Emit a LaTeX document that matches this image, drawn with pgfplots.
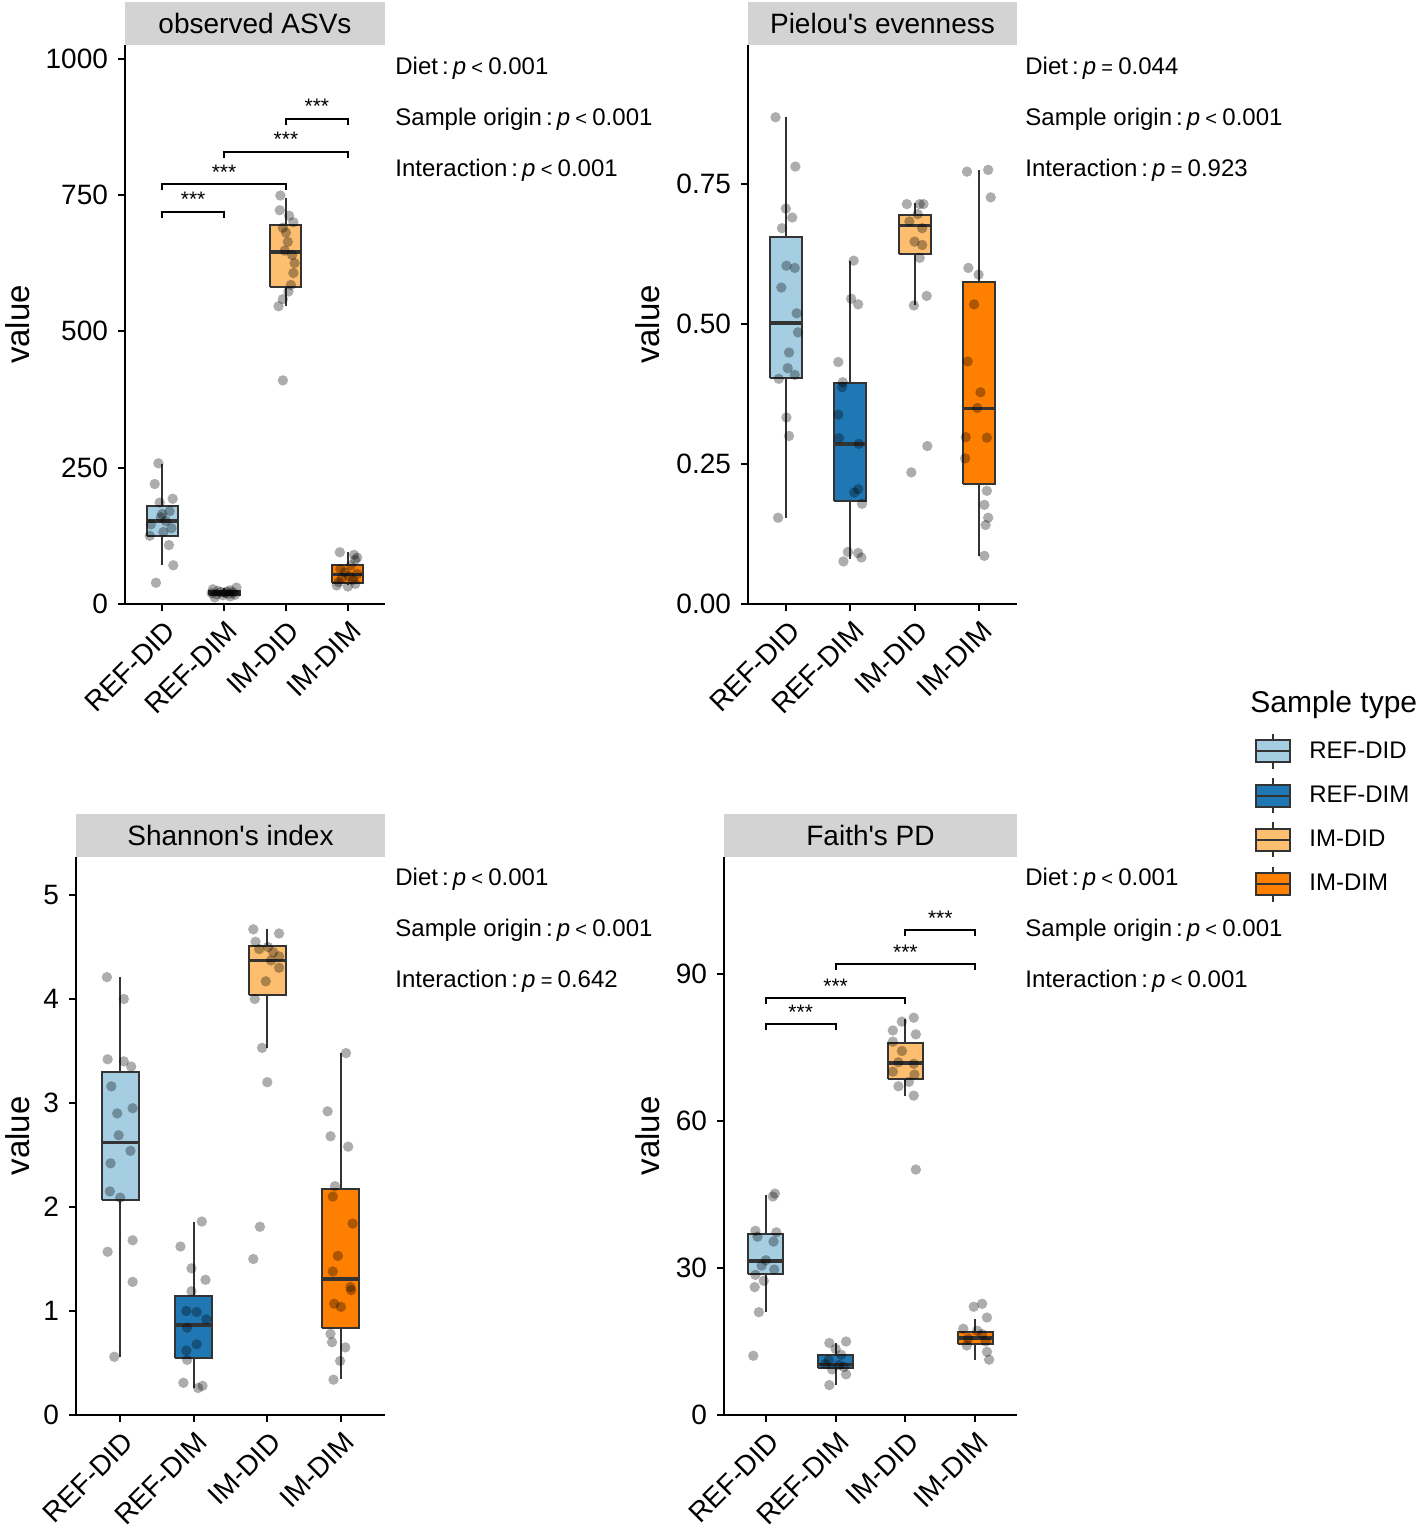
\documentclass[border=0pt]{standalone}
\usepackage{fontspec}
\setmainfont{Liberation Sans}
\usepackage{pgfplots}
\pgfplotsset{compat=1.18}
\usepackage{pgfplotstable}

\definecolor{refdid}{HTML}{A6CEE3}
\definecolor{refdim}{HTML}{1F78B4}
\definecolor{imdid}{HTML}{FDBF6F}
\definecolor{imdim}{HTML}{FF7F00}
\definecolor{boxline}{HTML}{333333}
\definecolor{stripgray}{HTML}{D3D3D3}

\newcommand{\fs}[1]{\fontsize{#1}{#1}\selectfont}

% jittered points: x = category + jitter, y = value
\pgfplotstableread{
x y
0.94 258
0.88 220
1.17 193
0.96 186
1.12 170
0.98 159
1.06 152
0.82 146
1.15 139
0.80 125
1.11 108
1.18 71
0.90 39
1.00 165
1.02 132
2.20 30
1.82 27
2.10 25
1.90 24
2.05 23
1.95 22
2.15 21
1.80 20
2.02 20
2.08 19
1.88 18
2.18 17
1.98 16
2.10 14
1.85 12
2.91 749
2.90 722
3.05 712
3.12 700
2.95 690
3.00 681
3.03 664
2.98 648
3.10 640
3.14 625
3.12 607
3.08 585
3.04 573
2.95 559
2.88 546
2.95 410
3.87 95
4.10 90
4.15 85
4.12 81
4.05 71
3.88 64
3.95 58
4.15 55
4.02 51
3.90 47
4.08 44
3.85 40
4.12 37
3.82 34
4.00 32
}\ptsAsv

\pgfplotstableread{
x y
0.83 0.869
1.14 0.781
0.99 0.706
1.09 0.690
0.93 0.671
1.00 0.604
1.13 0.600
0.92 0.565
1.16 0.519
1.18 0.485
1.04 0.449
1.02 0.421
1.13 0.409
0.88 0.402
1.00 0.333
1.04 0.300
0.87 0.154
2.05 0.613
2.01 0.545
2.12 0.535
1.81 0.432
1.88 0.396
1.87 0.387
1.81 0.338
1.82 0.296
2.13 0.286
2.12 0.205
2.06 0.199
2.18 0.179
1.96 0.093
1.89 0.076
2.12 0.091
2.17 0.083
2.88 0.714
3.08 0.714
3.14 0.714
3.05 0.696
2.92 0.683
3.12 0.671
3.00 0.647
3.12 0.641
3.08 0.618
3.19 0.550
2.99 0.533
3.20 0.282
2.95 0.235
3.82 0.772
4.15 0.775
4.19 0.726
3.84 0.600
4.00 0.588
3.93 0.535
3.83 0.433
4.03 0.378
3.98 0.350
3.80 0.298
4.13 0.297
3.79 0.260
4.13 0.202
4.09 0.177
4.15 0.154
4.11 0.141
4.09 0.086
}\ptsPie

\pgfplotstableread{
x y
0.82 4.21
1.05 4.00
0.83 3.42
1.05 3.40
1.15 3.35
0.88 3.16
0.96 2.90
1.17 2.95
0.98 2.69
1.14 2.54
0.87 2.42
0.86 2.15
1.00 2.09
1.17 1.68
0.83 1.57
1.17 1.28
0.92 0.56
2.11 1.86
1.82 1.62
1.97 1.41
2.16 1.30
1.97 1.19
1.90 1.00
2.04 0.99
2.17 0.92
1.91 0.84
2.04 0.68
1.90 0.62
1.91 0.53
1.86 0.31
2.12 0.28
2.06 0.26
2.81 4.67
3.16 4.63
2.84 4.55
3.01 4.50
2.89 4.48
3.08 4.45
3.16 4.41
3.05 4.37
3.16 4.30
2.98 4.17
2.83 4.00
2.93 3.53
3.00 3.20
2.90 1.81
2.81 1.50
4.07 3.48
3.82 2.92
3.86 2.68
4.10 2.58
3.92 2.20
3.89 2.10
4.16 1.84
3.96 1.53
3.89 1.38
4.13 1.23
4.14 1.20
3.91 1.07
4.00 1.04
3.86 0.78
3.88 0.70
4.06 0.65
3.99 0.52
3.90 0.34
}\ptsSha

\pgfplotstableread{
x y
1.13 45.2
1.10 44.6
0.85 37.6
1.15 37.3
0.88 36.4
1.11 35.4
1.00 31.6
0.94 30.5
1.12 29.7
0.85 28.6
0.97 27.4
0.84 26.1
0.90 21.0
0.82 12.1
1.91 14.7
2.15 15.0
2.00 13.5
2.08 12.3
1.90 11.2
1.85 10.4
2.05 10.2
2.12 9.8
1.95 9.3
2.15 8.3
1.91 6.1
3.12 81.1
2.95 80.3
2.82 78.5
3.15 77.7
2.82 76.2
2.95 74.3
2.90 72.0
3.12 71.7
2.82 70.1
3.13 69.5
3.05 68.0
2.90 67.1
3.12 65.2
3.15 50.1
4.10 22.7
3.98 22.1
4.17 19.9
3.83 17.6
4.03 17.2
4.10 16.5
3.90 15.6
4.15 15.0
3.88 14.2
4.17 12.9
4.20 11.3
}\ptsFai

\pgfplotsset{
  panel/.style={
    scale only axis, anchor=south west,
    axis lines=left, axis line style={-, line width=1pt},
    xmin=0.4, xmax=4.6, xtick={1,2,3,4},
    xticklabels={REF-DID,REF-DIM,IM-DID,IM-DIM},
    tick align=outside, major tick length=3.5pt,
    tick style={black, line width=1pt},
    ticklabel style={font=\fs{14}},
    yticklabel style={xshift=-1.5pt},
    xticklabel style={rotate=45, anchor=north east, xshift=1pt},
    ylabel={value}, ylabel style={font=\fs{16.5}, anchor=center},
    clip=false,
  },
  pts/.style={only marks, mark=*, mark size=2.6pt,
    mark options={draw opacity=0, fill=black, fill opacity=0.32}},
  br/.style={line width=0.9pt, black},
}

% one box: position, box left, box right, colour, lower whisker, lower quartile, median, upper quartile, upper whisker
\newcommand{\bxp}[9]{%
  \addplot[forget plot, boxline, line width=1pt] coordinates {(#1,#5) (#1,#6)};
  \addplot[forget plot, boxline, line width=1pt] coordinates {(#1,#8) (#1,#9)};
  \addplot[forget plot, draw=boxline, fill=#4, line width=1pt] coordinates {(#2,#6) (#3,#6) (#3,#8) (#2,#8) (#2,#6)};
  \addplot[forget plot, boxline, line width=1.8pt] coordinates {(#2,#7) (#3,#7)};}
\newcommand{\strip}[1]{%
  \fill[stripgray] (rel axis cs:0,1) rectangle ([yshift=21.5pt]rel axis cs:1,1);
  \node[font=\fs{14}, inner sep=0pt] at ([yshift=10.75pt]rel axis cs:0.5,1) {#1};}
\newcommand{\stars}[2]{\node[font=\fs{10.5}, anchor=base, inner sep=0pt, yshift=2.5pt] at (axis cs:#1,#2) {***};}
\newcommand{\legbox}[1]{\addlegendimage{legend image code/.code={
  \draw[boxline, line width=1pt] (8.5pt,-8.75pt)--(8.5pt,8.75pt);
  \draw[boxline, line width=1pt, fill=#1] (0pt,-5.5pt) rectangle (17pt,5.5pt);
  \draw[boxline, line width=1pt] (0pt,0pt)--(17pt,0pt);}}}
% test result line: label, relation, value
\newcommand{\res}[3]{#1\,:\,\textit{p}\hspace{0.22em}{\fs{10}#2}\hspace{0.22em}#3}

\begin{document}
\begin{tikzpicture}
\useasboundingbox (0,0) rectangle (709pt,-768.5pt);

% observed ASVs
\begin{axis}[panel, at={(62.5pt,-302pt)}, width=130pt, height=279.5pt,
  ymin=0, ymax=1025, ytick={0,250,500,750,1000}, yticklabels={0,250,500,750,1000},
  ylabel style={at={(axis description cs:-0.4115,0.5)}}]
\strip{observed ASVs}
\bxp{1}{0.75}{1.25}{refdid}{72}{124}{152}{180}{256}
\bxp{2}{1.75}{2.25}{refdim}{12}{17}{20}{23}{30}
\bxp{3}{2.75}{3.25}{imdid}{546}{581}{646}{695}{744}
\bxp{4}{3.75}{4.25}{imdim}{34}{39}{54}{72}{95}
\addplot[pts] table[x=x, y=y] {\ptsAsv};
\addplot[br] coordinates {(1,708) (1,719) (2,719) (2,708)};
\addplot[br] coordinates {(1,759) (1,770) (3,770) (3,759)};
\addplot[br] coordinates {(2,818) (2,829) (4,829) (4,818)};
\addplot[br] coordinates {(3,879) (3,890) (4,890) (4,879)};
\stars{1.5}{719}\stars{2}{770}\stars{3}{829}\stars{3.5}{890}
\end{axis}

% Pielou's evenness
\begin{axis}[panel, at={(374pt,-302pt)}, width=134.5pt, height=279.5pt,
  ymin=0, ymax=0.998, ytick={0,0.25,0.5,0.75}, yticklabels={0.00,0.25,0.50,0.75},
  ylabel style={at={(axis description cs:-0.372,0.5)}}]
\strip{Pielou\textquotesingle s evenness}
\bxp{1}{0.75}{1.25}{refdid}{0.154}{0.403}{0.502}{0.655}{0.869}
\bxp{2}{1.75}{2.25}{refdim}{0.080}{0.184}{0.286}{0.394}{0.613}
\bxp{3}{2.75}{3.25}{imdid}{0.533}{0.624}{0.676}{0.694}{0.716}
\bxp{4}{3.75}{4.25}{imdim}{0.086}{0.215}{0.349}{0.575}{0.775}
\addplot[pts] table[x=x, y=y] {\ptsPie};
\end{axis}

% Shannon's index
\begin{axis}[panel, at={(38pt,-707.5pt)}, width=154.5pt, height=279pt,
  ymin=0, ymax=5.365, ytick={0,1,2,3,4,5}, yticklabels={0,1,2,3,4,5},
  ylabel style={at={(axis description cs:-0.1877,0.5)}}]
\strip{Shannon\textquotesingle s index}
\bxp{1}{0.75}{1.25}{refdid}{0.56}{2.07}{2.62}{3.30}{4.21}
\bxp{2}{1.75}{2.25}{refdim}{0.26}{0.545}{0.865}{1.14}{1.86}
\bxp{3}{2.75}{3.25}{imdid}{3.53}{4.04}{4.37}{4.51}{4.67}
\bxp{4}{3.75}{4.25}{imdim}{0.35}{0.84}{1.31}{2.17}{3.48}
\addplot[pts] table[x=x, y=y] {\ptsSha};
\end{axis}

% Faith's PD
\begin{axis}[panel, at={(362pt,-707.5pt)}, width=146.5pt, height=279pt,
  ymin=0, ymax=113.9, ytick={0,30,60,90}, yticklabels={0,30,60,90},
  ylabel style={at={(axis description cs:-0.2594,0.5)}},
  legend style={at={(axis description cs:1.8123,1.2231)}, anchor=north west,
    draw=none, fill=none, inner sep=0pt, font=\fs{12}, row sep=3.6pt,
    nodes={inner sep=1pt}, /tikz/every odd column/.append style={column sep=8pt}},
  legend cell align=left]
\legbox{refdid}\addlegendentry{REF-DID}
\legbox{refdim}\addlegendentry{REF-DIM}
\legbox{imdid}\addlegendentry{IM-DID}
\legbox{imdim}\addlegendentry{IM-DIM}
\strip{Faith\textquotesingle s PD}
\bxp{1}{0.75}{1.25}{refdid}{21.0}{28.8}{31.4}{36.9}{45.0}
\bxp{2}{1.75}{2.25}{refdim}{6.1}{9.5}{10.3}{12.2}{14.7}
\bxp{3}{2.75}{3.25}{imdid}{65.2}{68.6}{71.8}{76.0}{80.9}
\bxp{4}{3.75}{4.25}{imdim}{11.3}{14.4}{15.7}{17.0}{19.7}
\addplot[forget plot, pts] table[x=x, y=y] {\ptsFai};
\addplot[forget plot, br] coordinates {(1,78.6) (1,79.8) (2,79.8) (2,78.6)};
\addplot[forget plot, br] coordinates {(1,83.9) (1,85.1) (3,85.1) (3,83.9)};
\addplot[forget plot, br] coordinates {(2,90.8) (2,92.0) (4,92.0) (4,90.8)};
\addplot[forget plot, br] coordinates {(3,97.8) (3,99.0) (4,99.0) (4,97.8)};
\stars{1.5}{79.8}\stars{2}{85.1}\stars{3}{92.0}\stars{3.5}{99.0}
\end{axis}

% test results beside each panel
\begin{scope}[every node/.style={anchor=west, inner sep=0pt, font=\fs{12}}]
\node at (197.5pt,-34pt) {\res{Diet}{<}{0.001}};
\node at (197.5pt,-59.5pt) {\res{Sample origin}{<}{0.001}};
\node at (197.5pt,-85pt) {\res{Interaction}{<}{0.001}};
\node at (512.5pt,-34pt) {\res{Diet}{=}{0.044}};
\node at (512.5pt,-59.5pt) {\res{Sample origin}{<}{0.001}};
\node at (512.5pt,-85pt) {\res{Interaction}{=}{0.923}};
\node at (197.5pt,-439.5pt) {\res{Diet}{<}{0.001}};
\node at (197.5pt,-465pt) {\res{Sample origin}{<}{0.001}};
\node at (197.5pt,-490.5pt) {\res{Interaction}{=}{0.642}};
\node at (512.5pt,-439.5pt) {\res{Diet}{<}{0.001}};
\node at (512.5pt,-465pt) {\res{Sample origin}{<}{0.001}};
\node at (512.5pt,-490.5pt) {\res{Interaction}{<}{0.001}};
\end{scope}
\node[anchor=west, inner sep=0pt, font=\fs{15}] at (625pt,-352.5pt) {Sample type};
\end{tikzpicture}
\end{document}
